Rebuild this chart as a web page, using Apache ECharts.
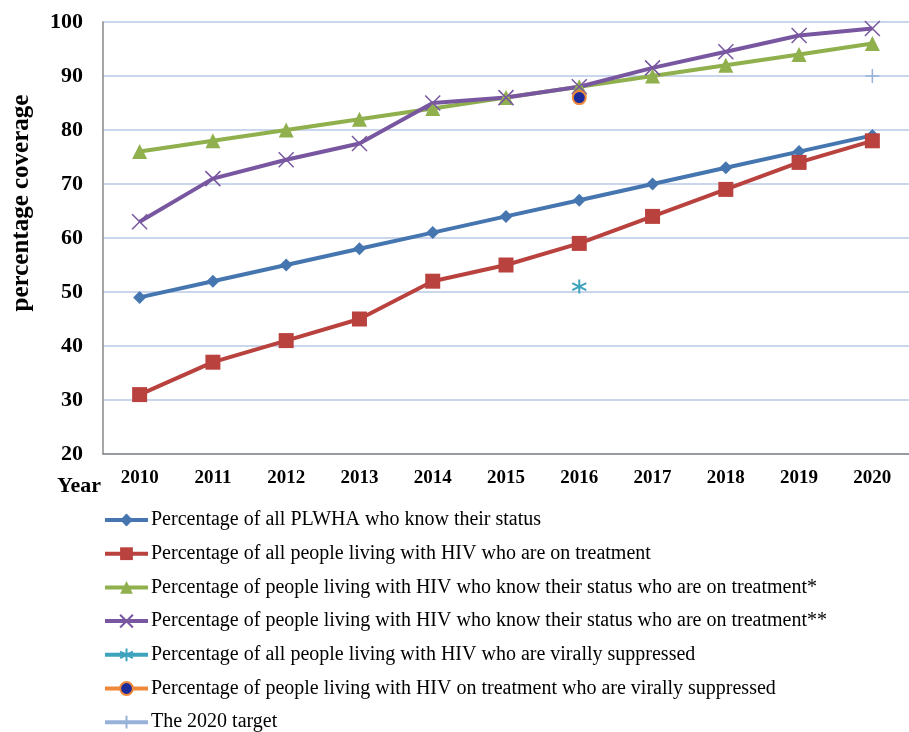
<!DOCTYPE html>
<html>
<head>
<meta charset="utf-8">
<script src="https://cdn.jsdelivr.net/npm/echarts@6/dist/echarts.min.js"></script>
<style>
    html, body { margin: 0; padding: 0; background: #fff; }
    #chart { width: 909px; height: 732px; }
</style>
</head>
<body>
<div id="chart"></div>
<script>
// years on the x axis
var years = ['2010', '2011', '2012', '2013', '2014', '2015', '2016', '2017', '2018', '2019', '2020'];

// series values
var knowStatus = [49, 52, 55, 58, 61, 64, 67, 70, 73, 76, 79];
var onTreatment = [31, 37, 41, 45, 52, 55, 59, 64, 69, 74, 78];
var knowOnTreatA = [76, 78, 80, 82, 84, 86, 88, 90, 92, 94, 96];
var knowOnTreatB = [63, 71, 74.5, 77.5, 85, 86, 88, 91.5, 94.5, 97.5, 98.8];
var allSuppressed = [null, null, null, null, null, null, 51, null, null, null, null];
var treatSuppressed = [null, null, null, null, null, null, 86, null, null, null, null];
var target2020 = [null, null, null, null, null, null, null, null, null, null, 90];

var seriesNames = [
    'Percentage of all PLWHA who know their status',
    'Percentage of all people living with HIV who are on treatment',
    'Percentage of people living with HIV who know their status who are on treatment*',
    'Percentage of people living with HIV who know their status who are on treatment**',
    'Percentage of all people living with HIV who are virally suppressed',
    'Percentage of people living with HIV on treatment who are virally suppressed',
    'The 2020 target'
];

var crossPath = 'path://M0,0L10,10M10,0L0,10';
var starPath = 'path://M5,0L5,10M0,2.5L10,7.5M10,2.5L0,7.5';
var plusPath = 'path://M5,0L5,10M0,5L10,5';

function lineSeries(name, data, color, symbol, size, extra) {
    var s = {
        name: name,
        type: 'line',
        data: data,
        symbol: symbol,
        symbolSize: size,
        lineStyle: { color: color, width: 4 },
        itemStyle: { color: color },
        emphasis: { disabled: true }
    };
    return Object.assign(s, extra || {});
}

var chart = echarts.init(document.getElementById('chart'));

var option = {
    backgroundColor: '#fff',
    animation: false,
    textStyle: { fontFamily: 'Liberation Serif' },
    grid: { left: 103, top: 22, right: -8, bottom: 278 },
    legend: {
        orient: 'vertical',
        left: 98,
        top: 504,
        height: 240,
        padding: [5, 5, 0, 5],
        itemWidth: 43,
        itemHeight: 16,
        itemGap: 11.7,
        lineStyle: { width: 4 },
        textStyle: { fontFamily: 'Liberation Serif', fontSize: 20, color: '#000', lineHeight: 22, padding: [0, 0, 0, -2] },
        data: seriesNames
    },
    graphic: [{
        type: 'text',
        left: 57,
        top: 475,
        style: { text: 'Year', font: 'bold 22px "Liberation Serif"', fill: '#000' }
    }, {
        type: 'text',
        x: 22,
        y: 203,
        rotation: Math.PI / 2,
        style: {
            text: 'percentage coverage',
            font: 'bold 25px "Liberation Serif"',
            fill: '#000',
            textAlign: 'center',
            textVerticalAlign: 'middle'
        }
    }],
    xAxis: {
        type: 'category',
        data: years,
        boundaryGap: true,
        axisLine: { lineStyle: { color: '#888', width: 1.5 } },
        axisTick: { show: false },
        axisLabel: { color: '#000', fontWeight: 'bold', fontSize: 19, margin: 15, fontFamily: 'Liberation Serif' }
    },
    yAxis: {
        type: 'value',
        min: 20,
        max: 100,
        interval: 10,
        axisLine: { show: true, lineStyle: { color: '#888', width: 1.5 } },
        axisTick: { show: false },
        axisLabel: { color: '#000', fontWeight: 'bold', fontSize: 22, margin: 20, fontFamily: 'Liberation Serif' },
        splitLine: { lineStyle: { color: '#b9c9e6', width: 1.5 } }
    },
    series: [
        lineSeries(seriesNames[0], knowStatus, '#4676b0', 'diamond', 13),
        lineSeries(seriesNames[1], onTreatment, '#b9423f', 'rect', 15),
        lineSeries(seriesNames[2], knowOnTreatA, '#8fb04d', 'triangle', 15),
        lineSeries(seriesNames[3], knowOnTreatB, '#7857a0', crossPath, 15, {
            itemStyle: { color: '#7857a0', borderColor: '#7857a0', borderWidth: 1.5 }
        }),
        lineSeries(seriesNames[4], allSuppressed, '#3ea3bd', starPath, 14, {
            itemStyle: { color: '#3ea3bd', borderColor: '#3ea3bd', borderWidth: 2 }
        }),
        lineSeries(seriesNames[5], treatSuppressed, '#f0883a', 'circle', 13, {
            itemStyle: { color: '#1c2a9c', borderColor: '#f0883a', borderWidth: 2 }
        }),
        lineSeries(seriesNames[6], target2020, '#97b2d8', plusPath, 14, {
            itemStyle: { color: '#97b2d8', borderColor: '#97b2d8', borderWidth: 1.5 }
        })
    ]
};

chart.setOption(option);
</script>
</body>
</html>
